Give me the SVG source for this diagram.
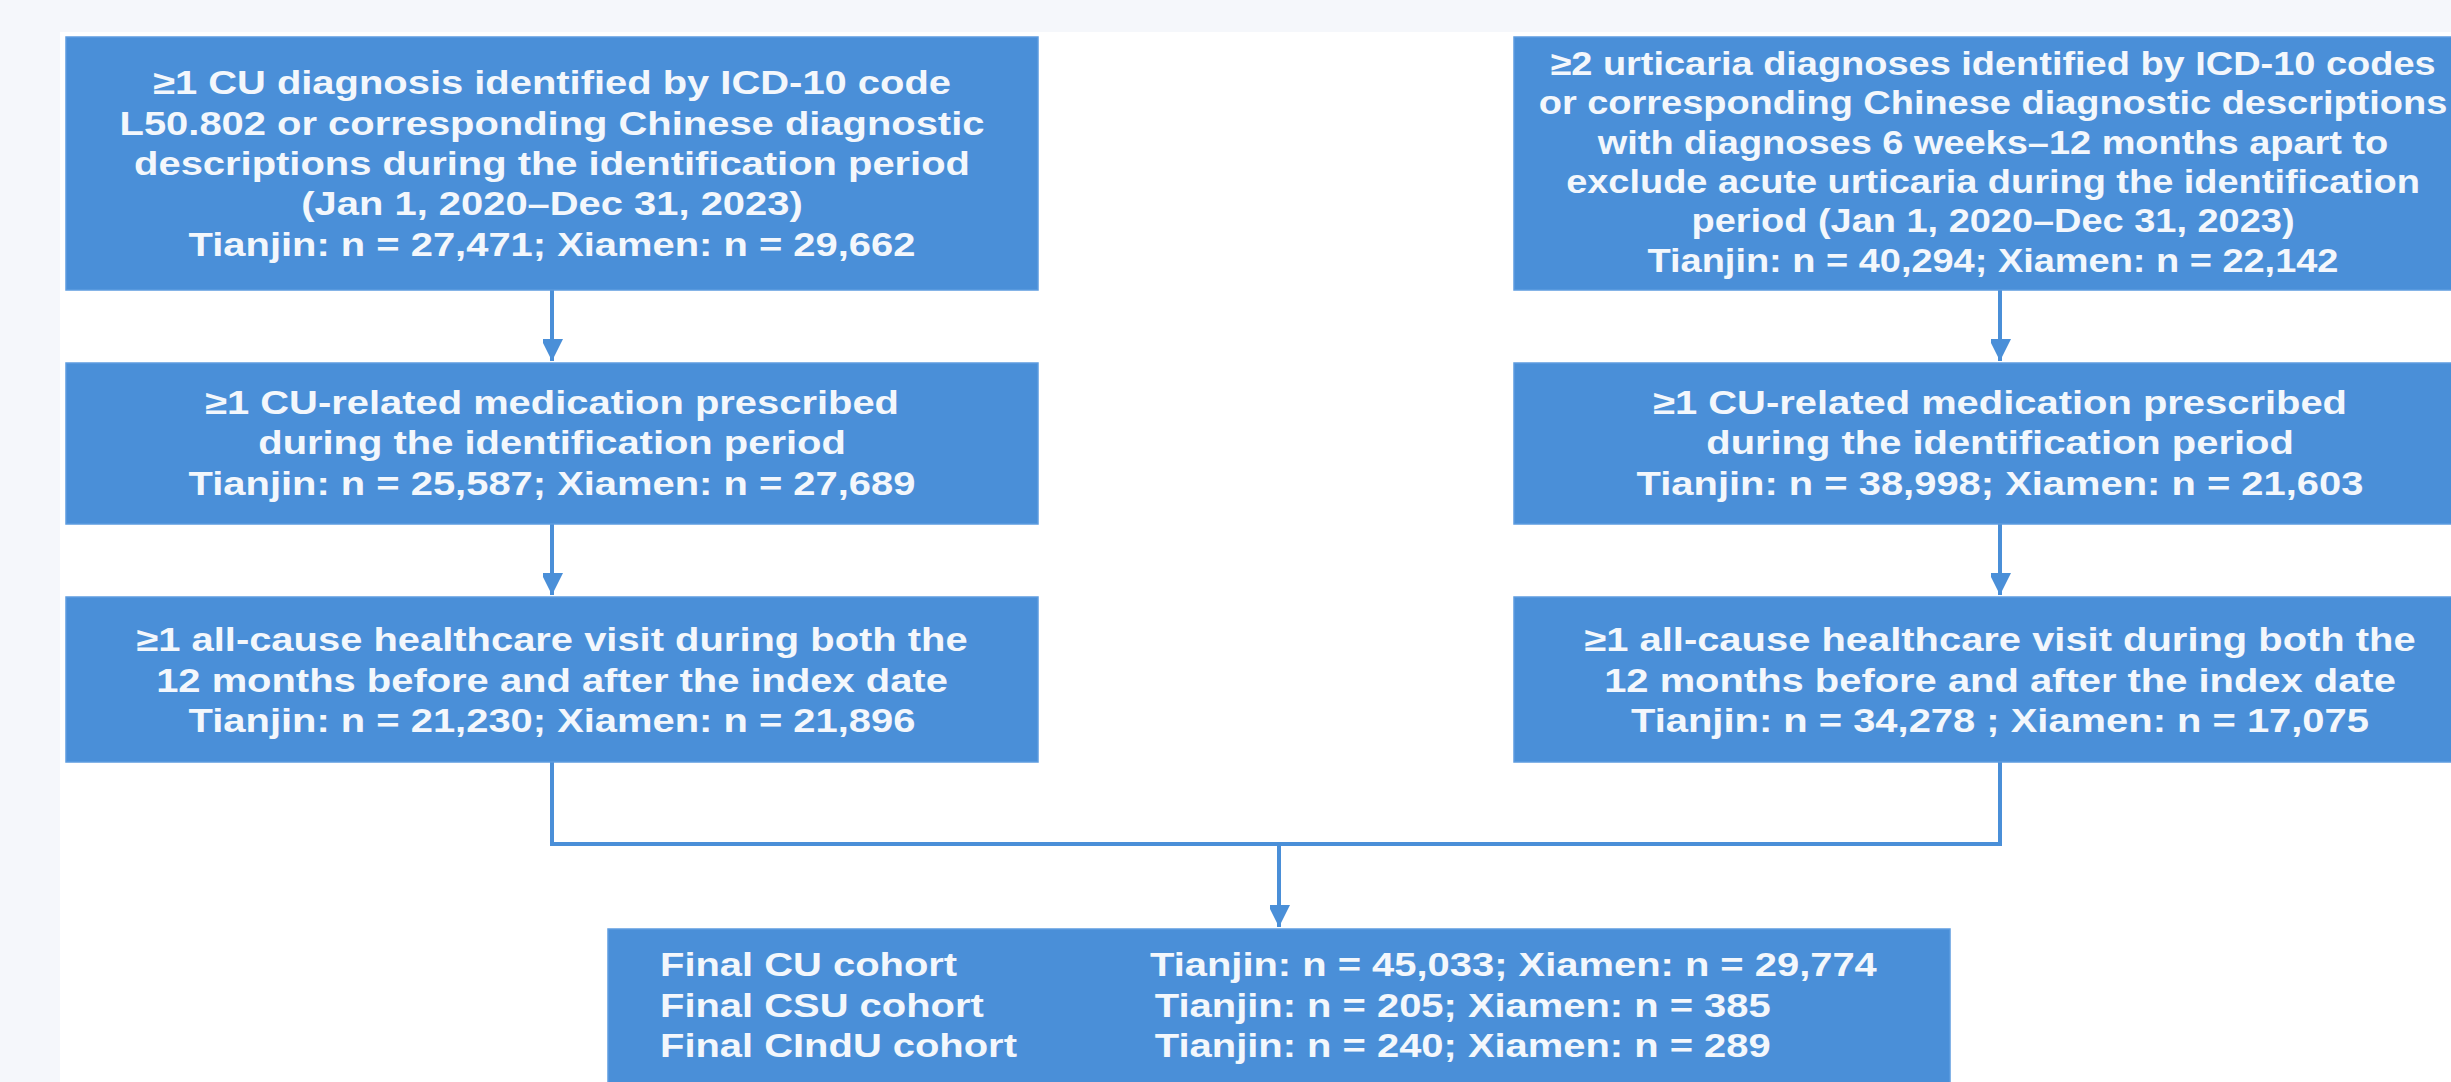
<svg xmlns="http://www.w3.org/2000/svg" width="2451" height="1082" viewBox="0 0 2451 1082">
<style>
.box{fill:#4a8fd8;stroke:#5d9ce0;stroke-width:1.5}
.t{font-family:"Liberation Sans",Arial,sans-serif;font-weight:bold;font-size:33px;fill:#f3f7fc}
.c{text-anchor:middle}
.conn{fill:none;stroke:#4a8fd8;stroke-width:4}
</style>
<defs>
<marker id="ah" markerUnits="userSpaceOnUse" markerWidth="24" markerHeight="20" refX="22" refY="11" orient="auto">
<path d="M0,0 L22,11 L0,22 Z" fill="#4a8fd8"/>
</marker>
</defs>
<rect x="0" y="0" width="2451" height="1082" fill="#f5f7fb"/>
<rect x="60" y="32" width="2391" height="1050" fill="#ffffff"/>

<g id="connectors">
<path class="conn" d="M552,290 V361" marker-end="url(#ah)"/>
<path class="conn" d="M552,524 V595" marker-end="url(#ah)"/>
<path class="conn" d="M2000,290 V361" marker-end="url(#ah)"/>
<path class="conn" d="M2000,524 V595" marker-end="url(#ah)"/>
<path class="conn" d="M552,762 V844 H2000 V762"/>
<path class="conn" d="M1279,844 V927" marker-end="url(#ah)"/>
</g>

<g id="left1">
<rect class="box" x="66" y="37" width="972" height="253"/>
<g transform="translate(552 0) scale(1.21 1)">
<text class="t c" x="0" y="94">≥1 CU diagnosis identified by ICD-10 code</text>
<text class="t c" x="0" y="135">L50.802 or corresponding Chinese diagnostic</text>
<text class="t c" x="0" y="175">descriptions during the identification period</text>
<text class="t c" x="0" y="215">(Jan 1, 2020–Dec 31, 2023)</text>
<text class="t c" x="0" y="256">Tianjin: n = 27,471; Xiamen: n = 29,662</text>
</g>
</g>

<g id="left2">
<rect class="box" x="66" y="363" width="972" height="161"/>
<g transform="translate(552 0) scale(1.21 1)">
<text class="t c" x="0" y="414">≥1 CU-related medication prescribed</text>
<text class="t c" x="0" y="454">during the identification period</text>
<text class="t c" x="0" y="495">Tianjin: n = 25,587; Xiamen: n = 27,689</text>
</g>
</g>

<g id="left3">
<rect class="box" x="66" y="597" width="972" height="165"/>
<g transform="translate(552 0) scale(1.21 1)">
<text class="t c" x="0" y="651">≥1 all-cause healthcare visit during both the</text>
<text class="t c" x="0" y="692">12 months before and after the index date</text>
<text class="t c" x="0" y="732">Tianjin: n = 21,230; Xiamen: n = 21,896</text>
</g>
</g>

<g id="right1">
<rect class="box" x="1514" y="37" width="972" height="253"/>
<g transform="translate(1993 0) scale(1.15 1)">
<text class="t c" x="0" y="75">≥2 urticaria diagnoses identified by ICD-10 codes</text>
<text class="t c" x="0" y="114">or corresponding Chinese diagnostic descriptions</text>
<text class="t c" x="0" y="154">with diagnoses 6 weeks–12 months apart to</text>
<text class="t c" x="0" y="193">exclude acute urticaria during the identification</text>
<text class="t c" x="0" y="232">period (Jan 1, 2020–Dec 31, 2023)</text>
<text class="t c" x="0" y="272">Tianjin: n = 40,294; Xiamen: n = 22,142</text>
</g>
</g>

<g id="right2">
<rect class="box" x="1514" y="363" width="972" height="161"/>
<g transform="translate(2000 0) scale(1.21 1)">
<text class="t c" x="0" y="414">≥1 CU-related medication prescribed</text>
<text class="t c" x="0" y="454">during the identification period</text>
<text class="t c" x="0" y="495">Tianjin: n = 38,998; Xiamen: n = 21,603</text>
</g>
</g>

<g id="right3">
<rect class="box" x="1514" y="597" width="972" height="165"/>
<g transform="translate(2000 0) scale(1.21 1)">
<text class="t c" x="0" y="651">≥1 all-cause healthcare visit during both the</text>
<text class="t c" x="0" y="692">12 months before and after the index date</text>
<text class="t c" x="0" y="732">Tianjin: n = 34,278 ; Xiamen: n = 17,075</text>
</g>
</g>

<g id="final">
<rect class="box" x="608" y="929" width="1342" height="160"/>
<g transform="translate(660 0) scale(1.21 1)">
<text class="t" x="0" y="976">Final CU cohort</text>
<text class="t" x="0" y="1017">Final CSU cohort</text>
<text class="t" x="0" y="1057">Final CIndU cohort</text>
</g>
<g transform="translate(1150 0) scale(1.21 1)">
<text class="t" x="0" y="976">Tianjin: n = 45,033; Xiamen: n = 29,774</text>
<text class="t" x="4" y="1017">Tianjin: n = 205; Xiamen: n = 385</text>
<text class="t" x="4" y="1057">Tianjin: n = 240; Xiamen: n = 289</text>
</g>
</g>
</svg>
